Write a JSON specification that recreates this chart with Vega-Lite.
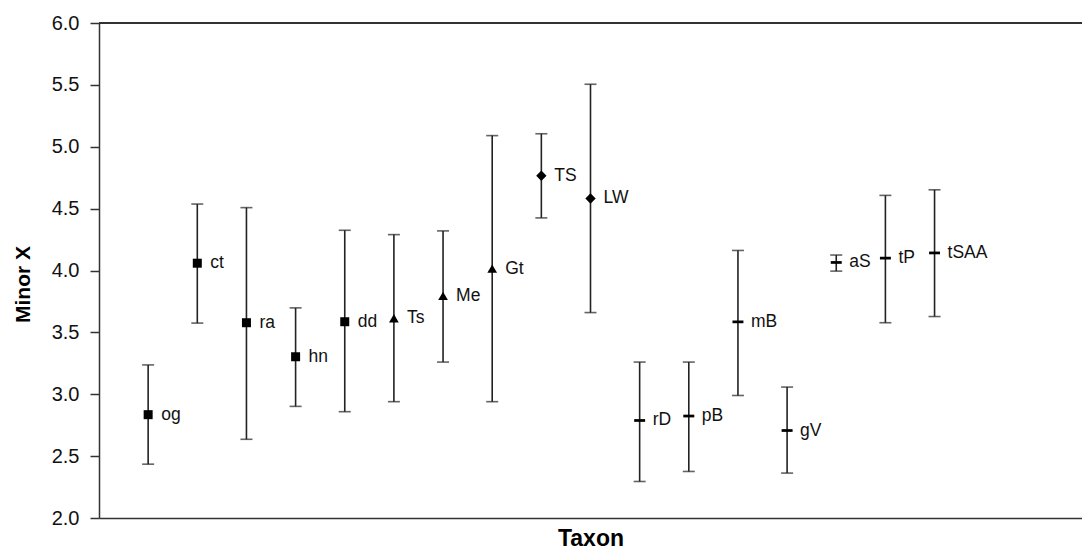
{
  "$schema": "https://vega.github.io/schema/vega-lite/v6.json",
  "width": 983,
  "height": 495,
  "autosize": {"type": "none"},
  "padding": {"left": 99, "top": 23, "right": 0, "bottom": 36},
  "background": "white",
  "config": {
    "view": {"stroke": null},
    "font": "Liberation Sans"
  },
  "data": {
    "values": [
      {"taxon": "og", "pos": 1, "mean": 2.835, "lo": 2.435, "hi": 3.237, "marker": "square"},
      {"taxon": "ct", "pos": 2, "mean": 4.059, "lo": 3.575, "hi": 4.537, "marker": "square"},
      {"taxon": "ra", "pos": 3, "mean": 3.578, "lo": 2.636, "hi": 4.508, "marker": "square"},
      {"taxon": "hn", "pos": 4, "mean": 3.303, "lo": 2.902, "hi": 3.698, "marker": "square"},
      {"taxon": "dd", "pos": 5, "mean": 3.586, "lo": 2.859, "hi": 4.325, "marker": "square"},
      {"taxon": "Ts", "pos": 6, "mean": 3.614, "lo": 2.94, "hi": 4.29, "marker": "triangle"},
      {"taxon": "Me", "pos": 7, "mean": 3.795, "lo": 3.26, "hi": 4.32, "marker": "triangle"},
      {"taxon": "Gt", "pos": 8, "mean": 4.015, "lo": 2.94, "hi": 5.09, "marker": "triangle"},
      {"taxon": "TS", "pos": 9, "mean": 4.766, "lo": 4.425, "hi": 5.105, "marker": "diamond"},
      {"taxon": "LW", "pos": 10, "mean": 4.582, "lo": 3.66, "hi": 5.505, "marker": "diamond"},
      {"taxon": "rD", "pos": 11, "mean": 2.788, "lo": 2.295, "hi": 3.26, "marker": "dash"},
      {"taxon": "pB", "pos": 12, "mean": 2.824, "lo": 2.376, "hi": 3.26, "marker": "dash"},
      {"taxon": "mB", "pos": 13, "mean": 3.585, "lo": 2.99, "hi": 4.162, "marker": "dash"},
      {"taxon": "gV", "pos": 14, "mean": 2.707, "lo": 2.363, "hi": 3.058, "marker": "dash"},
      {"taxon": "aS", "pos": 15, "mean": 4.065, "lo": 3.995, "hi": 4.125, "marker": "dash"},
      {"taxon": "tP", "pos": 16, "mean": 4.1, "lo": 3.578, "hi": 4.607, "marker": "dash"},
      {"taxon": "tSAA", "pos": 17, "mean": 4.142, "lo": 3.628, "hi": 4.652, "marker": "dash"}
    ]
  },
  "encoding": {
    "x": {
      "field": "pos",
      "type": "quantitative",
      "scale": {"domain": [0, 20], "nice": false, "zero": false},
      "axis": {
        "title": "Taxon",
        "titleFontSize": 23,
        "titleFontWeight": "bold",
        "titleColor": "black",
        "titlePadding": 9,
        "labels": false,
        "ticks": false,
        "grid": false,
        "domainColor": "#333333",
        "domainWidth": 1.5
      }
    }
  },
  "layer": [
    {
      "mark": {"type": "rule", "color": "#333333", "strokeWidth": 1.5},
      "encoding": {"x": null, "y": {"datum": 6, "type": "quantitative"}}
    },
    {
      "mark": {"type": "rule", "color": "#222222", "strokeWidth": 1.6},
      "encoding": {
        "y": {
          "field": "lo",
          "type": "quantitative",
          "scale": {"domain": [2, 6], "nice": false, "zero": false},
          "axis": {
            "title": "Minor X",
            "titleFontSize": 21,
            "titleFontWeight": "bold",
            "titleColor": "black",
            "titlePadding": 18,
            "titleY": 261,
            "values": [2, 2.5, 3, 3.5, 4, 4.5, 5, 5.5, 6],
            "format": ".1f",
            "labelFontSize": 20,
            "labelColor": "#111111",
            "labelPadding": 11,
            "tickSize": 9,
            "tickColor": "#333333",
            "tickWidth": 1.5,
            "domainColor": "#333333",
            "domainWidth": 1.5,
            "grid": false
          }
        },
        "y2": {"field": "hi"}
      }
    },
    {
      "mark": {"type": "tick", "orient": "horizontal", "color": "#222222", "size": 12, "thickness": 1.6},
      "encoding": {"y": {"field": "lo", "type": "quantitative"}}
    },
    {
      "mark": {"type": "tick", "orient": "horizontal", "color": "#222222", "size": 12, "thickness": 1.6},
      "encoding": {"y": {"field": "hi", "type": "quantitative"}}
    },
    {
      "mark": {"type": "point", "filled": true, "color": "black", "opacity": 1},
      "encoding": {
        "y": {"field": "mean", "type": "quantitative"},
        "shape": {
          "field": "marker",
          "type": "nominal",
          "scale": {
            "domain": ["square", "triangle", "diamond", "dash"],
            "range": ["square", "triangle-up", "diamond", "M-1,-0.25H1V0.25H-1Z"]
          },
          "legend": null
        },
        "size": {
          "field": "marker",
          "type": "ordinal",
          "scale": {
            "domain": ["square", "triangle", "diamond", "dash"],
            "range": [81, 120, 90, 100]
          },
          "legend": null
        }
      }
    },
    {
      "mark": {"type": "text", "align": "left", "baseline": "middle", "dx": 13, "fontSize": 17.5, "color": "#111111"},
      "encoding": {
        "y": {"field": "mean", "type": "quantitative"},
        "text": {"field": "taxon"}
      }
    }
  ]
}
